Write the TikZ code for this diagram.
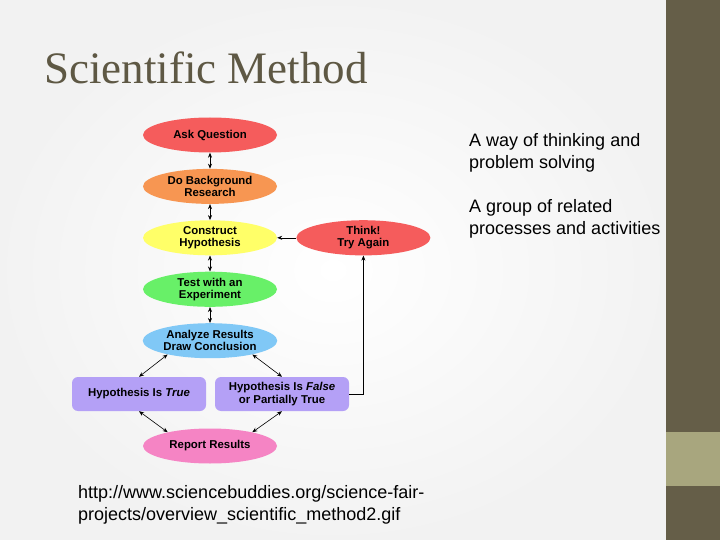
\documentclass[tikz,border=0pt]{standalone}
\usepackage{fontspec}
\setsansfont{Liberation Sans}
\newfontfamily\titlefont{Liberation Serif}
\usepackage{xcolor}
\usetikzlibrary{shapes.geometric,arrows.meta,positioning}
\definecolor{smred}{RGB}{245,92,92}
\definecolor{smorange}{RGB}{247,150,82}
\definecolor{smyellow}{RGB}{255,255,104}
\definecolor{smgreen}{RGB}{104,240,104}
\definecolor{smblue}{RGB}{128,200,246}
\definecolor{smpurple}{RGB}{180,160,246}
\definecolor{smpink}{RGB}{245,132,196}
\definecolor{smtitle}{RGB}{94,88,68}
\definecolor{sidedark}{RGB}{101,94,72}
\definecolor{sidelight}{RGB}{168,166,126}

\begin{document}
\begin{tikzpicture}[
    x=1pt, y=-1pt,
    node distance=16pt,
    stage/.style={ellipse, minimum width=134pt, minimum height=35pt, inner sep=1pt,
                  align=center, font=\sffamily\bfseries\fontsize{11.4}{12.2}\selectfont},
    verdict/.style={rectangle, rounded corners=6pt, fill=smpurple, minimum width=134pt,
                    minimum height=34pt, align=center, font=\sffamily\bfseries\fontsize{11.4}{12.2}\selectfont},
    dbl/.style={<->, line width=0.6pt, >={Stealth[length=5pt,width=4pt]}},
    arr/.style={->, line width=0.6pt, >={Stealth[length=5pt,width=4pt]}},
    bodytext/.style={anchor=base west, inner sep=0pt, align=left,
                     font=\sffamily\fontsize{18}{22}\selectfont}
]
    \useasboundingbox (0,0) rectangle (720,540);

    % Slide background and side bar
    \shade[inner color=white, outer color=gray!10] (0,0) rectangle (666,540);
    \fill[sidedark] (666,0) rectangle (720,540);
    \fill[sidelight] (666,432) rectangle (720,486);

    % Title
    \node[anchor=base west, inner sep=0pt, text=smtitle, font=\titlefont\fontsize{45}{54}\selectfont]
        (title) at (44,84) {Scientific Method};

    % Steps
    \node[stage, fill=smred] (ask) at (210,135) {Ask Question};
    \node[stage, fill=smorange, below=of ask] (research) {Do Background\\Research};
    \node[stage, fill=smyellow, below=of research] (construct) {Construct\\Hypothesis};
    \node[stage, fill=smgreen, below=of construct] (test) {Test with an\\Experiment};
    \node[stage, fill=smblue, below=of test] (analyze) {Analyze Results\\Draw Conclusion};
    \node[stage, fill=smred, right=19pt of construct] (think) {Think!\\Try Again};

    % Outcomes
    \node[verdict] (true) at (139,394) {Hypothesis Is \textit{True}};
    \node[verdict] (false) at (282,394) {Hypothesis Is \textit{False}\\or Partially True};
    \node[stage, fill=smpink] (report) at (210,446) {Report Results};

    % Arrows
    \draw[dbl] (ask) -- (research);
    \draw[dbl] (research) -- (construct);
    \draw[dbl] (construct) -- (test);
    \draw[dbl] (test) -- (analyze);
    \draw[dbl] (analyze.198) -- (true.north);
    \draw[dbl] (analyze.342) -- (false.north);
    \draw[dbl] (true.south) -- (report.162);
    \draw[dbl] (false.south) -- (report.18);
    \draw[arr] (think) -- (construct);
    \draw[arr] (false.east) -| (think.south);

    % Notes
    \node[bodytext] (way) at (469,169) {A way of thinking and\\problem solving};
    \node[bodytext] (group) at (469,234) {A group of related\\processes and activities};
    \node[bodytext] (source) at (78,520)
        {http://www.sciencebuddies.org/science-fair-\\projects/overview\_scientific\_method2.gif};
\end{tikzpicture}
\end{document}
